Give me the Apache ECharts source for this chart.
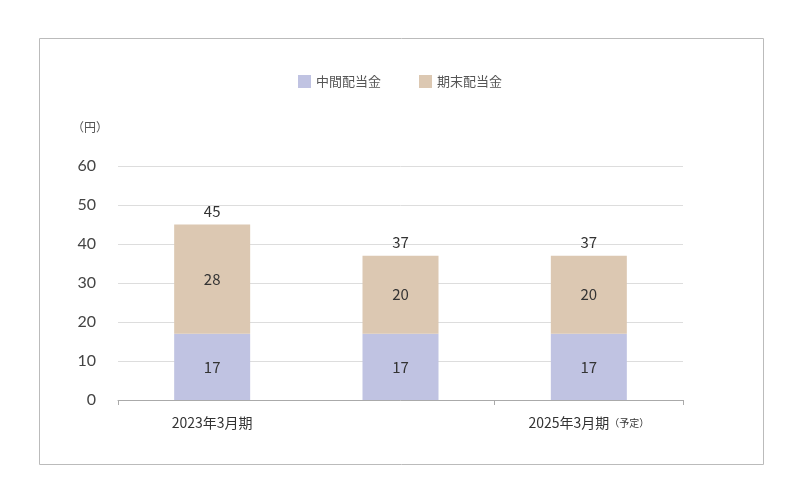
<!DOCTYPE html>
<html><head><meta charset="utf-8">
<script src="https://cdn.jsdelivr.net/npm/echarts@6/dist/echarts.min.js"></script>
<style>html,body{margin:0;padding:0;background:#fff}#c{width:800px;height:500px}</style>
</head><body><div id="c"></div>
<script>
const categories = ['2023年3月期', '2024年3月期', '2025年3月期'];
const interim = [17, 17, 17];
const yearEnd = [28, 20, 20];
const totals = [45, 37, 37];
const yTicks = [0, 10, 20, 30, 40, 50, 60];
const font = '"Noto Sans CJK JP", "Noto Sans", sans-serif';
const chart = echarts.init(document.getElementById('c'));
chart.setOption({
  animation: false,
  textStyle: { fontFamily: font },
  graphic: [
    { type: 'rect', shape: { x: 39.5, y: 38.5, width: 724, height: 426 }, style: { fill: 'none', stroke: '#bbb', lineWidth: 1 } },
    { type: 'text', left: 72, top: 121, style: { text: '（円）', fill: '#555', font: '12px ' + font } }
  ],
  legend: {
    top: 70, left: 'center', itemGap: 38, itemWidth: 13, itemHeight: 13,
    icon: 'rect', textStyle: { color: '#555', fontSize: 13, fontFamily: font },
    data: ['中間配当金', '期末配当金']
  },
  grid: { left: 118, right: 117, top: 166, bottom: 100 },
  xAxis: {
    type: 'category', data: categories,
    axisLine: { lineStyle: { color: '#aaa' } },
    axisTick: { show: true, lineStyle: { color: '#aaa' }, length: 5 },
    axisLabel: {
      color: '#333', fontSize: 14, margin: 16,
      formatter: (v, i) => i === 2 ? v + '{s|（予定）}' : v,
      rich: { s: { fontSize: 10, color: '#333', fontFamily: font } }
    }
  },
  yAxis: {
    type: 'value', min: 0, max: 60, interval: 10,
    axisLine: { show: false }, axisTick: { show: false },
    axisLabel: { color: '#444', fontSize: 16, margin: 22, align: 'right', fontFamily: 'Lato, sans-serif' },
    splitLine: { lineStyle: { color: '#ddd' } }
  },
  series: [
    { name: '中間配当金', type: 'bar', stack: 'a', data: interim, barWidth: 76,
      itemStyle: { color: '#c0c3e2' },
      label: { show: true, position: 'inside', color: '#333', fontSize: 15 } },
    { name: '期末配当金', type: 'bar', stack: 'a', data: yearEnd, barWidth: 76,
      itemStyle: { color: '#dcc8b2' },
      label: { show: true, position: 'inside', color: '#333', fontSize: 15 } },
    { name: 'total', type: 'bar', stack: 'a', data: totals.map(() => 0), barWidth: 76,
      itemStyle: { color: 'transparent' },
      label: { show: true, position: 'top', color: '#333', fontSize: 15, distance: 6,
        formatter: p => totals[p.dataIndex] } }
  ]
});
</script></body></html>
